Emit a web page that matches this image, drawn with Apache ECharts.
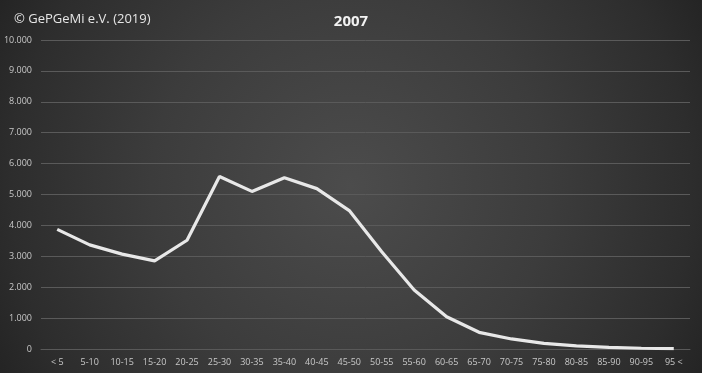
<!DOCTYPE html>
<html><head><meta charset="utf-8">
<script src="https://cdn.jsdelivr.net/npm/echarts@6/dist/echarts.min.js"></script>
<style>html,body{margin:0;padding:0;background:#333}#c{width:702px;height:373px}</style>
</head><body><div id="c"></div>
<script>
const categories = ['< 5','5-10','10-15','15-20','20-25','25-30','30-35','35-40','40-45','45-50','50-55','55-60','60-65','65-70','70-75','75-80','80-85','85-90','90-95','95 <'];
const values = [3870,3370,3070,2850,3520,5580,5100,5545,5190,4480,3150,1910,1045,540,325,180,100,50,25,15];
const yTicks = {min:0, max:10000, interval:1000};
const titleText = '2007';
const copyrightText = '\u00A9 GePGeMi e.V. (2019)';

const chart = echarts.init(document.getElementById('c'));
chart.setOption({
  backgroundColor: new echarts.graphic.RadialGradient(351, 186, 400, [
    {offset:0, color:'#4c4c4c'},
    {offset:0.5, color:'#3c3c3c'},
    {offset:0.85, color:'#2d2d2d'},
    {offset:1, color:'#242424'}
  ], true),
  animation:false,
  title:[
    {text:titleText, left:'center', top:9, textStyle:{color:'#f2f2f2', fontSize:15, fontWeight:'bold', fontFamily:'Open Sans'}},
    {text:copyrightText, left:9, top:8, textStyle:{color:'#e6e6e6', fontSize:13, fontWeight:'normal', fontFamily:'Open Sans'}}
  ],
  grid:{left:41, right:12, top:40, bottom:24, containLabel:false},
  xAxis:{type:'category', data:categories, boundaryGap:true,
    axisLine:{show:true, lineStyle:{color:'#595959'}}, axisTick:{show:false},
    axisLabel:{color:'#c8c8c8', fontSize:9, fontFamily:'Open Sans', interval:0, margin:9}},
  yAxis:{type:'value', min:yTicks.min, max:yTicks.max, interval:yTicks.interval,
    axisLine:{show:false}, axisTick:{show:false},
    splitLine:{lineStyle:{color:'#5a5a5a', width:1}},
    axisLabel:{color:'#c8c8c8', fontSize:9, fontFamily:'Open Sans', margin:9,
      formatter:v=> v===0?'0':v.toLocaleString('de-DE',{minimumFractionDigits:0}).replace(/,/g,'.')}},
  series:[{type:'line', data:values, symbol:'none', smooth:false,
    lineStyle:{color:'#e8e8e8', width:3.2}}]
});
</script></body></html>
